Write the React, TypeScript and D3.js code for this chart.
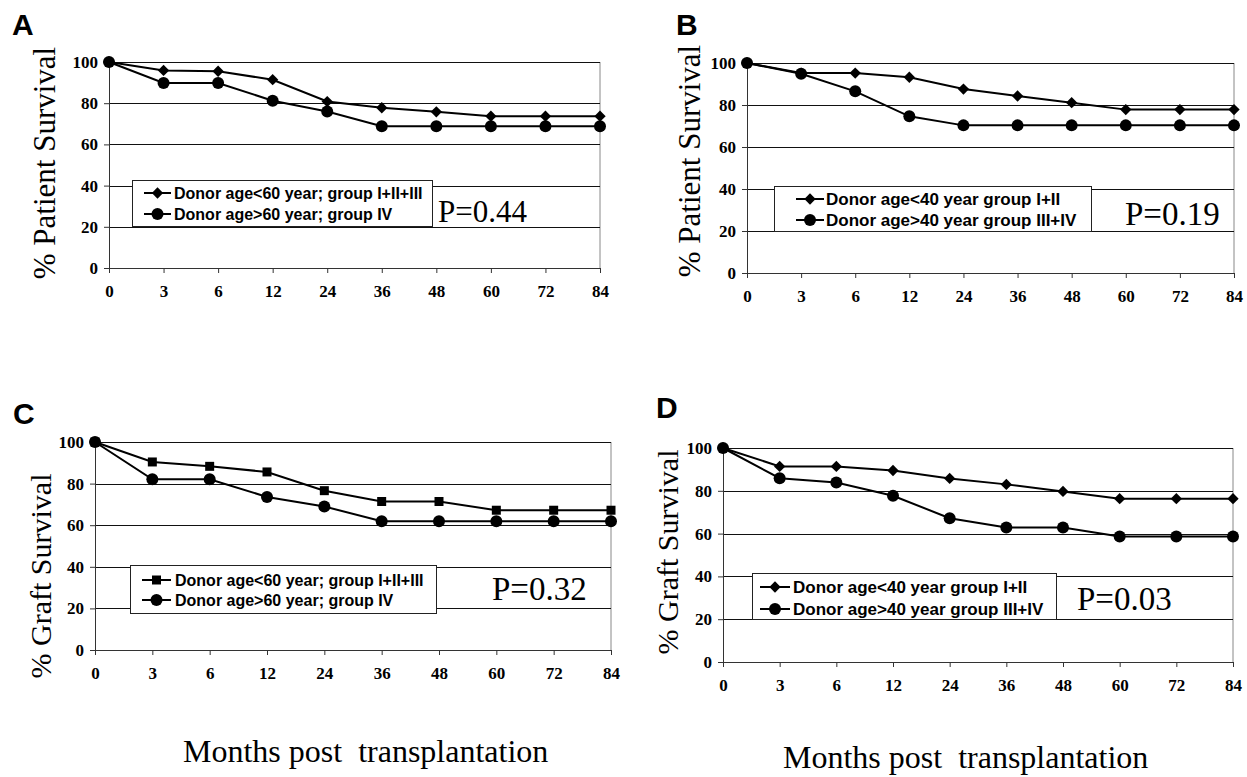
import React, { useEffect, useRef } from 'react';
import * as d3 from 'd3';

// months post transplantation (categorical, evenly spaced)
const months = ['0', '3', '6', '12', '24', '36', '48', '60', '72', '84'];
const yTicks = [0, 20, 40, 60, 80, 100];

// A: patient survival, donor age cut-off 60
const patientUnder60 = [100, 95.9, 95.5, 91.4, 80.8, 77.8, 75.8, 73.7, 73.7, 73.7];
const patientOver60 = [100, 89.8, 89.8, 81.2, 76.0, 68.8, 68.8, 68.8, 68.8, 68.8];
// B: patient survival, donor age cut-off 40
const patientUnder40 = [100, 95.2, 95.2, 93.2, 87.6, 84.3, 81.1, 77.8, 77.8, 77.8];
const patientOver40 = [100, 94.9, 86.5, 74.6, 70.3, 70.3, 70.3, 70.3, 70.3, 70.3];
// C: graft survival, donor age cut-off 60
const graftUnder60 = [100, 90.4, 88.3, 85.6, 76.6, 71.4, 71.4, 67.2, 67.2, 67.2];
const graftOver60 = [100, 82.1, 82.1, 73.6, 69.0, 61.9, 61.9, 61.9, 61.9, 61.9];
// D: graft survival, donor age cut-off 40
const graftUnder40 = [100, 91.4, 91.4, 89.5, 85.8, 83.0, 79.7, 76.3, 76.3, 76.3];
const graftOver40 = [100, 85.9, 83.9, 77.7, 67.2, 62.8, 62.8, 58.6, 58.6, 58.6];

const legendA = ['Donor age<60 year; group I+II+III', 'Donor age>60 year; group IV'];
const legendB = ['Donor age<40 year group I+II', 'Donor age>40 year group III+IV'];

const SERIF = '"Liberation Serif", "Times New Roman", serif';
const SANS = '"Liberation Sans", Arial, sans-serif';

const panels = [
  {
    letter: 'A', lx: 12, ly: 35,
    x0: 109, x1: 600, yTop: 62, yBot: 268,
    yLabel: '% Patient Survival', yLabelX: 55, yLabelY: 163, yfs: 31,
    series: [patientUnder60, patientOver60], shapes: ['diamond', 'circle'], names: legendA,
    legend: { x: 132, y: 180, w: 300, h: 46, rows: [193, 214], l0: 12, l1: 39, tx: 42, fs: 16 },
    p: 'P=0.44', px: 438, py: 222, pfs: 31,
  },
  {
    letter: 'B', lx: 676, ly: 35,
    x0: 747, x1: 1234, yTop: 63, yBot: 273,
    yLabel: '% Patient Survival', yLabelX: 700, yLabelY: 161, yfs: 31,
    series: [patientUnder40, patientOver40], shapes: ['diamond', 'circle'], names: legendB,
    legend: { x: 774, y: 186, w: 317, h: 45, rows: [199, 220], l0: 22, l1: 50, tx: 52, fs: 17 },
    p: 'P=0.19', px: 1125, py: 225, pfs: 33,
  },
  {
    letter: 'C', lx: 13, ly: 424,
    x0: 95, x1: 611, yTop: 442, yBot: 650,
    yLabel: '% Graft Survival', yLabelX: 51, yLabelY: 576, yfs: 30,
    series: [graftUnder60, graftOver60], shapes: ['square', 'circle'], names: legendA,
    legend: { x: 130, y: 565, w: 306, h: 48, rows: [580, 600], l0: 12, l1: 41, tx: 45, fs: 16 },
    p: 'P=0.32', px: 492, py: 600, pfs: 33,
  },
  {
    letter: 'D', lx: 656, ly: 418,
    x0: 723, x1: 1233, yTop: 448, yBot: 662,
    yLabel: '% Graft Survival', yLabelX: 678, yLabelY: 552, yfs: 30,
    series: [graftUnder40, graftOver40], shapes: ['diamond', 'circle'], names: legendB,
    legend: { x: 752, y: 573, w: 304, h: 46, rows: [587, 609], l0: 8, l1: 38, tx: 41, fs: 17 },
    p: 'P=0.03', px: 1077, py: 610, pfs: 33,
  },
];

const drawMarker = (g, shape, cx, cy) => {
  if (shape === 'circle') {
    g.append('circle').attr('cx', cx).attr('cy', cy).attr('r', 6).attr('fill', '#000');
  } else if (shape === 'square') {
    g.append('path')
      .attr('d', d3.symbol(d3.symbolSquare, 81)())
      .attr('transform', `translate(${cx},${cy})`)
      .attr('fill', '#000');
  } else {
    g.append('path')
      .attr('d', d3.symbol(d3.symbolSquare, 64)())
      .attr('transform', `translate(${cx},${cy}) rotate(45)`)
      .attr('fill', '#000');
  }
};

const App = () => {
  const svgRef = useRef(null);

  useEffect(() => {
    const svg = d3.select(svgRef.current);
    svg.selectAll('*').remove();

    panels.forEach(pn => {
      const g = svg.append('g');
      const x = d3.scalePoint().domain(months).range([pn.x0, pn.x1]);
      const y = d3.scaleLinear().domain([0, 100]).range([pn.yBot, pn.yTop]);

      // right border of plot area
      g.append('line')
        .attr('x1', pn.x1).attr('x2', pn.x1)
        .attr('y1', pn.yTop).attr('y2', pn.yBot)
        .attr('stroke', '#888').attr('stroke-width', 1);

      // gridlines
      g.selectAll('.grid')
        .data(yTicks.slice(1))
        .join('line')
        .attr('x1', pn.x0).attr('x2', pn.x1)
        .attr('y1', d => Math.round(y(d)) + 0.5).attr('y2', d => Math.round(y(d)) + 0.5)
        .attr('stroke', '#111').attr('stroke-width', 1);

      // axes
      const yAxis = g.append('g')
        .attr('transform', `translate(${pn.x0},0)`)
        .call(d3.axisLeft(y).tickValues(yTicks).tickSize(5).tickPadding(6));
      const xAxis = g.append('g')
        .attr('transform', `translate(0,${pn.yBot})`)
        .call(d3.axisBottom(x).tickSize(5).tickPadding(12));
      [yAxis, xAxis].forEach(ax => {
        ax.select('.domain').attr('stroke', '#333');
        ax.selectAll('line').attr('stroke', '#333');
        ax.selectAll('text')
          .attr('font-family', SERIF)
          .attr('font-weight', 'bold')
          .attr('font-size', 17)
          .attr('fill', '#000');
      });

      // survival curves
      const line = d3.line().x((d, i) => x(months[i])).y(d => y(d));
      pn.series.forEach(vals => {
        g.append('path')
          .attr('d', line(vals))
          .attr('fill', 'none')
          .attr('stroke', '#000')
          .attr('stroke-width', 2);
      });
      pn.series.forEach((vals, si) => {
        vals.forEach((v, i) => drawMarker(g, pn.shapes[si], x(months[i]), y(v)));
      });

      // legend
      const lg = pn.legend;
      g.append('rect')
        .attr('x', lg.x + 0.5).attr('y', lg.y + 0.5)
        .attr('width', lg.w).attr('height', lg.h)
        .attr('fill', '#fff').attr('stroke', '#222').attr('stroke-width', 1);
      pn.names.forEach((name, i) => {
        const cy = lg.rows[i];
        g.append('line')
          .attr('x1', lg.x + lg.l0).attr('x2', lg.x + lg.l1)
          .attr('y1', cy).attr('y2', cy)
          .attr('stroke', '#000').attr('stroke-width', 2);
        drawMarker(g, pn.shapes[i], lg.x + (lg.l0 + lg.l1) / 2, cy);
        g.append('text')
          .attr('x', lg.x + lg.tx).attr('y', cy)
          .attr('dy', '0.36em')
          .attr('font-family', SANS)
          .attr('font-weight', 'bold')
          .attr('font-size', lg.fs)
          .attr('fill', '#000')
          .text(name);
      });

      // p value
      g.append('text')
        .attr('x', pn.px).attr('y', pn.py)
        .attr('font-family', SERIF)
        .attr('font-size', pn.pfs)
        .attr('fill', '#000')
        .text(pn.p);

      // y axis title
      g.append('text')
        .attr('transform', `translate(${pn.yLabelX},${pn.yLabelY}) rotate(-90)`)
        .attr('text-anchor', 'middle')
        .attr('font-family', SERIF)
        .attr('font-size', pn.yfs)
        .attr('fill', '#000')
        .text(pn.yLabel);

      // panel letter
      g.append('text')
        .attr('x', pn.lx).attr('y', pn.ly)
        .attr('font-family', SANS)
        .attr('font-weight', 'bold')
        .attr('font-size', 30)
        .attr('fill', '#000')
        .text(pn.letter);
    });

    // shared x titles
    [[183, 762], [783, 768]].forEach(([tx, ty]) => {
      svg.append('text')
        .attr('x', tx).attr('y', ty)
        .attr('font-family', SERIF)
        .attr('font-size', 32)
        .attr('fill', '#000')
        .style('white-space', 'pre')
        .text('Months post  transplantation');
    });
  }, []);

  return (
    <svg
      ref={svgRef}
      width={1247}
      height={777}
      style={{ position: 'absolute', left: 0, top: 0, background: '#fff' }}
    />
  );
};

export default App;
